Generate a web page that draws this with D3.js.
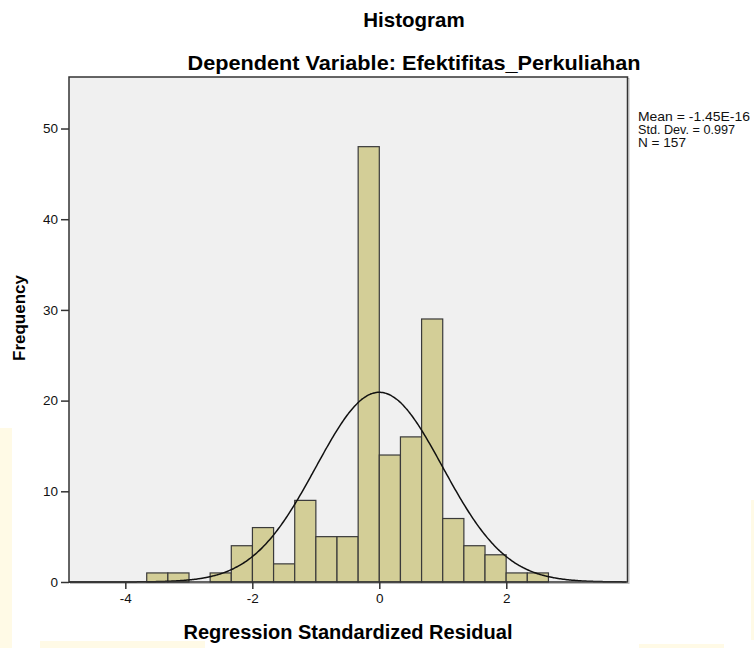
<!DOCTYPE html>
<html>
<head>
<meta charset="utf-8">
<script src="https://cdn.jsdelivr.net/npm/d3@7"></script>
<style>
  html, body { margin: 0; padding: 0; background: #ffffff; }
  svg { display: block; }
  text { font-family: Arial, "Liberation Sans", sans-serif; }
</style>
</head>
<body>
<svg id="chart" width="754" height="648"></svg>
<script>
// ---- data ----
const binStarts = [-3.663, -3.330, -2.997, -2.664, -2.331, -1.998, -1.665, -1.332, -0.999, -0.666,
                   -0.333, 0.000, 0.333, 0.666, 0.999, 1.332, 1.665, 1.998, 2.331];
const binWidth = 0.333;
const counts = [1, 1, 0, 1, 4, 6, 2, 9, 5, 5, 48, 14, 16, 29, 7, 4, 3, 1, 1];
const xTicks = [-4, -2, 0, 2];
const yTicks = [0, 10, 20, 30, 40, 50];
const statMean = -1.45e-16;
const statSD = 0.997;
const statN = 157;
const legendLines = ["Mean = -1.45E-16", "Std. Dev. = 0.997", "N = 157"];
const titleText = "Histogram";
const subtitleText = "Dependent Variable: Efektifitas_Perkuliahan";
const xTitle = "Regression Standardized Residual";
const yTitle = "Frequency";

// ---- layout ----
const svg = d3.select("#chart");
const plot = { left: 69, right: 627.5, top: 77, bottom: 582 };

// faint background watermark shapes
const wm = svg.append("g").attr("fill", "#fffae6");
wm.append("rect").attr("x", 0).attr("y", 428).attr("width", 12).attr("height", 220);
wm.append("rect").attr("x", 40).attr("y", 641).attr("width", 165).attr("height", 7);
wm.append("rect").attr("x", 639).attr("y", 644).attr("width", 85).attr("height", 4);
wm.append("rect").attr("x", 751).attr("y", 500).attr("width", 3).attr("height", 140);

const x = d3.scaleLinear().domain([-4.887, 3.909]).range([plot.left, plot.right]);
const y = d3.scaleLinear().domain([0, 55.68]).range([plot.bottom, plot.top]);

// plot background with subtle shadow
svg.append("rect")
  .attr("x", plot.left + 1.5).attr("y", plot.top + 1.5)
  .attr("width", plot.right - plot.left).attr("height", plot.bottom - plot.top)
  .attr("fill", "none").attr("stroke", "#bdbdbd").attr("stroke-width", 1);
svg.append("rect")
  .attr("x", plot.left).attr("y", plot.top)
  .attr("width", plot.right - plot.left).attr("height", plot.bottom - plot.top)
  .attr("fill", "#f0f0f0");

// bars
const bins = binStarts.map((s, i) => ({ x0: s, x1: s + binWidth, n: counts[i] }));
svg.append("g").selectAll("rect")
  .data(bins.filter(d => d.n > 0))
  .join("rect")
  .attr("x", d => x(d.x0))
  .attr("y", d => y(d.n))
  .attr("width", d => x(d.x1) - x(d.x0))
  .attr("height", d => y(0) - y(d.n))
  .attr("fill", "#d3ce97")
  .attr("stroke", "#3a3a3a")
  .attr("stroke-width", 1.2);

// normal curve
const scaleFactor = statN * binWidth;
const xs = d3.range(x.domain()[0], x.domain()[1] + 0.001, 0.02);
const curve = xs.map(v => [v, scaleFactor * Math.exp(-0.5 * Math.pow((v - statMean) / statSD, 2)) / (statSD * Math.sqrt(2 * Math.PI))]);
svg.append("path")
  .datum(curve)
  .attr("fill", "none")
  .attr("stroke", "#111")
  .attr("stroke-width", 1.5)
  .attr("d", d3.line().x(d => x(d[0])).y(d => y(d[1])).curve(d3.curveBasis));

// border
svg.append("rect")
  .attr("x", plot.left).attr("y", plot.top)
  .attr("width", plot.right - plot.left).attr("height", plot.bottom - plot.top)
  .attr("fill", "none").attr("stroke", "#333").attr("stroke-width", 1.5);

// axes
const xAxis = d3.axisBottom(x).tickValues(xTicks).tickSize(7).tickPadding(4).tickFormat(d3.format("d"));
const gx = svg.append("g").attr("transform", `translate(0,${plot.bottom})`).call(xAxis);
gx.select(".domain").remove();
gx.selectAll("line").attr("stroke", "#333").attr("stroke-width", 1.5);
gx.selectAll("text").attr("font-size", 13.5).attr("fill", "#111")
  .attr("font-family", "Arial, 'Liberation Sans', sans-serif").text(d => d < 0 ? "-" + Math.abs(d) : d);

const yAxis = d3.axisLeft(y).tickValues(yTicks).tickSize(8).tickPadding(3);
const gy = svg.append("g").attr("transform", `translate(${plot.left},0)`).call(yAxis);
gy.select(".domain").remove();
gy.selectAll("line").attr("stroke", "#333").attr("stroke-width", 1.5);
gy.selectAll("text").attr("font-size", 13.5).attr("fill", "#111")
  .attr("font-family", "Arial, 'Liberation Sans', sans-serif");

// titles
svg.append("text").attr("x", 414).attr("y", 26.7).attr("text-anchor", "middle")
  .attr("font-size", 20.5).attr("font-weight", "bold").attr("fill", "#000").text(titleText);
svg.append("text").attr("x", 414).attr("y", 70).attr("text-anchor", "middle")
  .attr("font-size", 21).attr("font-weight", "bold").attr("fill", "#000")
  .attr("textLength", 453).attr("lengthAdjust", "spacingAndGlyphs").text(subtitleText);

svg.append("text").attr("x", 348).attr("y", 639).attr("text-anchor", "middle")
  .attr("font-size", 20).attr("font-weight", "bold").attr("fill", "#000").text(xTitle);
svg.append("text").attr("transform", "translate(25,318) rotate(-90)").attr("text-anchor", "middle")
  .attr("font-size", 17).attr("font-weight", "bold").attr("fill", "#000").text(yTitle);

// legend
svg.append("g").selectAll("text")
  .data(legendLines).join("text")
  .attr("x", 638).attr("y", (d, i) => 120.5 + i * 13.2)
  .attr("font-size", 12.2).attr("fill", "#111")
  .attr("textLength", (d, i) => [112, 97, 48][i]).attr("lengthAdjust", "spacingAndGlyphs")
  .text(d => d);
</script>
</body>
</html>
